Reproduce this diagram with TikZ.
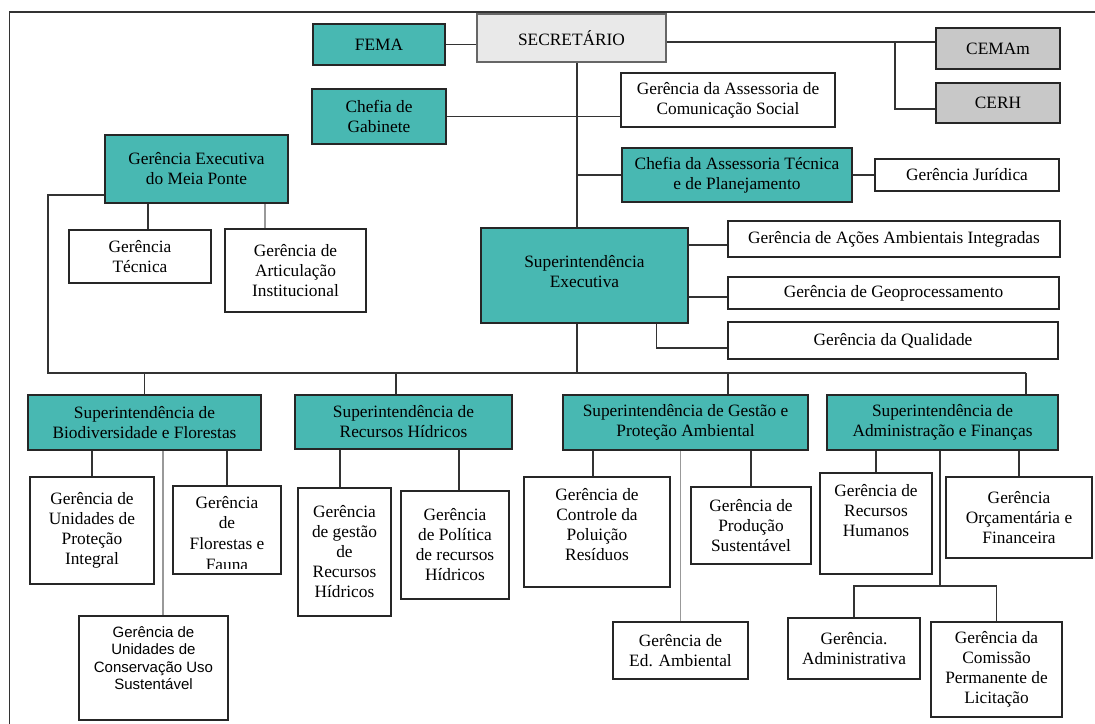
\documentclass[tikz,border=0pt]{standalone}
\usepackage{fontspec}
\setmainfont{Liberation Serif}
\newfontfamily\arialfont{Liberation Sans}
\usepackage{tikz}
\usetikzlibrary{positioning}

\definecolor{tealbox}{RGB}{72,184,178}
\definecolor{secgray}{RGB}{233,233,233}
\definecolor{conselho}{RGB}{200,200,200}

\begin{document}
\begin{tikzpicture}[x=0.75pt,y=-0.75pt,
        box/.style={draw=black!85,line width=1.4pt,align=center,inner sep=1pt,
          font=\fontsize{13}{15}\selectfont},
        unit/.style={box,fill=tealbox},
        wh/.style 2 args={minimum width=#1*0.75pt,minimum height=#2*0.75pt},
        link/.style={draw=black!80,line width=1.3pt},
        softlink/.style={draw=black!40,line width=1.3pt}]

      \useasboundingbox (0,0) rectangle (1095,724);
      \draw[link] (1095,12) -- (9.5,12) -- (9.5,724);

      % topo
      \node[box,fill=secgray,draw=black!60,wh={189}{48}] (sec) at (571.5,38)  {SECRETÁRIO};
      \node[unit,wh={132}{41}]  (fema)  at (379,44.5)  {FEMA};
      \node[unit,wh={134}{55}]  (gab)   at (379,116.5) {Chefia de\\Gabinete};
      \node[box,fill=conselho,wh={124}{41}] (cemam) at (998,48.5) {CEMAm};
      \node[box,fill=conselho,wh={124}{40}] (cerh)  at (998,103)  {CERH};
      \node[box,wh={214}{54}]   (acs)   at (728,100)   {Gerência da Assessoria de\\Comunicação Social};
      \node[unit,wh={230}{54}]  (atp)   at (737,175)   {Chefia da Assessoria Técnica\\e de Planejamento};
      \node[box,wh={184}{32}]   (jur)   at (967,175)   {Gerência Jurídica};
      \node[unit,wh={183}{68}]  (gemp)  at (196.5,169) {Gerência Executiva\\do Meia Ponte};
      \node[box,wh={142}{53}]   (gtec)  at (140,256.5) {Gerência\\Técnica};
      \node[box,wh={141}{83}]   (gart)  at (295.5,270.5) {Gerência de\\Articulação\\Institucional};
      \node[unit,wh={207}{95},text depth=6pt] (supex) at (584.5,275.5) {Superintendência\\Executiva};
      \node[box,wh={332}{36}]   (acoes) at (894,239)   {Gerência de Ações Ambientais Integradas};
      \node[box,wh={331}{32}]   (geo)   at (893.5,293) {Gerência de Geoprocessamento};
      \node[box,wh={330}{37}]   (qual)  at (893,340.5) {Gerência da Qualidade};

      % superintendencias
      \node[unit,wh={233}{55}]  (supbio)  at (144.5,422.5) {Superintendência de\\Biodiversidade e Florestas};
      \node[unit,wh={217}{54}]  (suprh)   at (403.5,422)   {Superintendência de\\Recursos Hídricos};
      \node[unit,wh={245}{55}]  (supgest) at (685.5,422.5) {Superintendência de Gestão e\\Proteção Ambiental};
      \node[unit,wh={231}{55}]  (supadm)  at (942.5,422.5) {Superintendência de\\Administração e Finanças};

      % gerencias
      \node[box,wh={124}{107}]  (gupi)  at (92,530.5)   {Gerência de\\Unidades de\\Proteção\\Integral};
      \node[box,wh={108}{88}]   (gflo)  at (227,530)    {};
      \node[box,wh={149}{104},text depth=15pt,font=\arialfont\fontsize{11.25}{13}\selectfont]
                                (gcons) at (153.5,668)  {Gerência de\\Unidades de\\Conservação Uso\\Sustentável};
      \node[box,wh={93}{128}]   (ggrh)  at (344.5,552)  {Gerência\\de gestão\\de\\Recursos\\Hídricos};
      \node[box,wh={108}{108}]  (gpol)  at (455,545)    {Gerência\\de Política\\de recursos\\Hídricos};
      \node[box,wh={146}{110},text depth=12pt] (gcont) at (597,532) {Gerência de\\Controle da\\Poluição\\Resíduos};
      \node[box,wh={120}{77}]   (gprod) at (751,525.5)  {Gerência de\\Produção\\Sustentável};
      \node[box,wh={135}{57}]   (gedu)  at (680.5,650.5) {Gerência de\\Ed. Ambiental};
      \node[box,wh={112}{101},text depth=19pt] (grh) at (876,523.5) {Gerência de\\Recursos\\Humanos};
      \node[box,wh={146}{81}]   (gorc)  at (1019,517.5) {Gerência\\Orçamentária e\\Financeira};
      \node[box,wh={132}{61}]   (gadm)  at (854,648.5)  {Gerência.\\Administrativa};
      \node[box,wh={131}{95}]   (gcom)  at (996.5,669.5) {Gerência da\\Comissão\\Permanente de\\Licitação};

      \begin{scope}
        \clip (gflo.north west) rectangle ([yshift=4.5pt]gflo.south east);
        \node[align=center,anchor=north,inner sep=0pt,font=\fontsize{13}{15.5}\selectfont]
          (flotext) at ([yshift=-8pt]gflo.north) {Gerência\\de\\Florestas e\\Fauna};
      \end{scope}

      % ligacoes
      \coordinate (tr) at (577,373);
      \coordinate (bl) at (48,373);
      \coordinate (br) at (1026,373);
      \coordinate (cs) at (895,42);

      \draw[link] (fema.east) -- (fema.east -| sec.west);
      \draw[link] (cs -| sec.east) -- (cs -| cemam.west);
      \draw[link] (cs) |- ([yshift=-4.5pt]cerh.west);
      \draw[link] (sec.south -| tr) -- (supex.north -| tr);
      \draw[link] (supex.south -| tr) -- (tr);
      \draw[link] (gab.east) -- (gab.east -| acs.west);
      \draw[link] (atp.west -| tr) -- (atp.west);
      \draw[link] (atp.east) -- (jur.west);
      \draw[link] ([yshift=-4.5pt]acoes.west -| supex.east) -- ([yshift=-4.5pt]acoes.west);
      \draw[link] ([yshift=-3pt]geo.west -| supex.east) -- ([yshift=-3pt]geo.west);
      \draw[link] ([xshift=54pt]supex.south) |- ([yshift=-5.5pt]qual.west);

      \draw[link] ([yshift=-19.5pt]gemp.west) -| (bl) -- (br);
      \draw[link] ([xshift=6pt]gtec.north) -- ([xshift=6pt]gtec.north |- gemp.south);
      \draw[softlink] ([xshift=-23pt]gart.north) -- ([xshift=-23pt]gart.north |- gemp.south);

      \draw[link] (bl -| supbio.north) -- (supbio.north);
      \draw[link] ([xshift=-5.5pt]tr -| suprh.north) -- ([xshift=-5.5pt]suprh.north);
      \draw[link] ([xshift=32pt]tr -| supgest.north) -- ([xshift=32pt]supgest.north);
      \draw[link] (br) -- (br |- supadm.north);

      \draw[link] (gupi.north) -- (gupi.north |- supbio.south);
      \draw[link] (gflo.north) -- (gflo.north |- supbio.south);
      \draw[softlink] ([xshift=7pt]gcons.north) -- ([xshift=7pt]gcons.north |- supbio.south);
      \draw[link] ([xshift=-3.5pt]ggrh.north) -- ([xshift=-3.5pt]ggrh.north |- suprh.south);
      \draw[link] ([xshift=3pt]gpol.north) -- ([xshift=3pt]gpol.north |- suprh.south);
      \draw[link] ([xshift=-3pt]gcont.north) -- ([xshift=-3pt]gcont.north |- supgest.south);
      \draw[softlink] (gedu.north) -- (gedu.north |- supgest.south);
      \draw[link] (gprod.north) -- (gprod.north |- supgest.south);
      \draw[link] (grh.north) -- (grh.north |- supadm.south);
      \draw[link] (gorc.north) -- (gorc.north |- supadm.south);
      \draw[link] ([xshift=-2pt]supadm.south) -- ++(0,135) coordinate (ad);
      \draw[link] (gadm.north) |- (ad) -| (gcom.north);
\end{tikzpicture}
\end{document}
